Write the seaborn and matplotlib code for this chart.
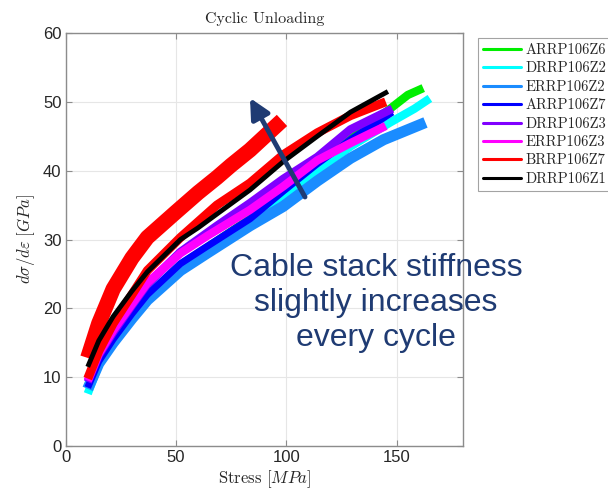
import numpy as np
import pandas as pd
import matplotlib
matplotlib.use("Agg")
import matplotlib.pyplot as plt
import seaborn as sns
from matplotlib.lines import Line2D

# ---- data ----
series_names = ["ARRP106Z6", "DRRP106Z2", "ERRP106Z2", "ARRP106Z7",
                "DRRP106Z3", "ERRP106Z3", "BRRP106Z7", "DRRP106Z1"]
series_colors = ["#00ee00", "#00ffff", "#1a8cff", "#0000ff",
                 "#8000ff", "#ff00ff", "#ff0000", "#000000"]

arrp106z6_x = [10, 15, 21.5, 30, 37, 52, 64, 83.5, 98.5, 114, 129, 145, 155, 162]
arrp106z6_y = [8.5, 12.2, 15.2, 18.8, 21.7, 26.3, 28.8, 33, 36.5, 41, 45, 48.5, 51, 52]

drrp106z2_x = [10, 15, 21.5, 30, 37, 52, 64, 83.5, 98.5, 114, 129, 147, 158, 165]
drrp106z2_y = [7.6, 11.8, 15, 18.6, 21.5, 26, 28.5, 32.5, 36, 40, 43.5, 47, 49, 50.5]

errp106z2_x = [10, 15, 21.5, 30, 37, 52, 64, 83.5, 98.5, 114, 129, 144, 163]
errp106z2_y = [8.3, 12, 15, 18.5, 21.2, 25.5, 28, 32, 34.8, 38.5, 41.8, 44.5, 47]

arrp106z7_x = [10, 15, 21.5, 30, 37, 52, 64, 83.5, 98.5, 114, 129, 148]
arrp106z7_y = [8.5, 12.3, 15.5, 19.2, 22, 26.5, 29, 33, 37, 41, 44.5, 48.5]

drrp106z3_x = [10, 15, 21.5, 30, 37, 52, 68.5, 83.5, 98.5, 114, 129, 148]
drrp106z3_y = [9.3, 13.2, 16.5, 20.4, 23.5, 28.2, 32, 35.3, 38.8, 42, 46, 49]

errp106z3_x = [10, 15, 21.5, 30, 37, 52, 64, 83.5, 98.5, 114, 129, 145]
errp106z3_y = [9.5, 13.4, 16.8, 20.6, 23.7, 28, 30.5, 34.3, 37.7, 41.5, 44, 46.5]

# BRRP106Z7: first cycle (to ~100 MPa) and second cycle (to ~145 MPa)
brrp106z7_c1_x = [10, 15, 21.5, 30, 37, 50, 60, 68.5, 75, 83.5, 98]
brrp106z7_c1_y = [12.8, 17.8, 22.8, 27.3, 30.3, 34, 36.8, 39, 40.8, 43, 47.3]
brrp106z7_c2_x = [10, 15, 21.5, 30, 37, 52, 68.5, 83.5, 98.5, 114, 129, 145]
brrp106z7_c2_y = [9.8, 13.8, 17.8, 22, 25.5, 30.3, 35, 38.2, 42.3, 45.5, 48, 50]

drrp106z1_x = [10, 15, 21.5, 30, 37, 52, 60, 68.5, 83.5, 98.5, 114, 129, 146]
drrp106z1_y = [11.5, 15.3, 18.8, 22.5, 25.3, 30, 31.7, 33.7, 37.2, 41.3, 45, 48.5, 51.5]

x_ticks = [0, 50, 100, 150]
y_ticks = [0, 10, 20, 30, 40, 50, 60]

curves = [
    ("ARRP106Z6", arrp106z6_x, arrp106z6_y),
    ("DRRP106Z2", drrp106z2_x, drrp106z2_y),
    ("ERRP106Z2", errp106z2_x, errp106z2_y),
    ("ARRP106Z7", arrp106z7_x, arrp106z7_y),
    ("DRRP106Z3", drrp106z3_x, drrp106z3_y),
    ("ERRP106Z3", errp106z3_x, errp106z3_y),
    ("BRRP106Z7", brrp106z7_c1_x, brrp106z7_c1_y),
    ("BRRP106Z7", brrp106z7_c2_x, brrp106z7_c2_y),
    ("DRRP106Z1", drrp106z1_x, drrp106z1_y),
]
widths = [6, 6, 8, 5, 6, 6, 11, 6.5, 3.5]

sns.set_theme(style="whitegrid")
plt.rcParams["mathtext.fontset"] = "cm"
plt.rcParams["font.family"] = ["Liberation Sans", "DejaVu Sans"]

fig = plt.figure(figsize=(6.08, 4.98), dpi=100)
ax = fig.add_axes([0.108, 0.1044, 0.6535, 0.8293])

cmap = dict(zip(series_names, series_colors))
for (name, xs, ys), w in zip(curves, widths):
    df = pd.DataFrame({"x": xs, "y": ys})
    sns.lineplot(data=df, x="x", y="y", ax=ax, color=cmap[name], lw=w,
                 sort=False, estimator=None, legend=False,
                 solid_capstyle="butt", solid_joinstyle="round")

ax.set_xlim(0, 180)
ax.set_ylim(0, 60)
ax.set_xticks(x_ticks)
ax.set_yticks(y_ticks)
ax.set_xticklabels([str(t) for t in x_ticks], fontsize=12, color="#262626")
ax.set_yticklabels([str(t) for t in y_ticks], fontsize=12, color="#262626")
ax.grid(True, color="#e6e6e6", lw=0.8)
ax.set_facecolor("white")
for s in ax.spines.values():
    s.set_visible(True)
    s.set_color("#8c8c8c")
    s.set_linewidth(1.0)
ax.tick_params(direction="in", length=4, width=0.8, color="#8c8c8c",
               top=True, right=True, bottom=True, left=True, pad=3)

ax.set_title("Cyclic Unloading", fontname="cmr10", fontsize=11.5,
             color="#262626", pad=7)
ax.set_xlabel(r"Stress $[MPa]$", fontname="cmr10", fontsize=12,
              color="#262626", labelpad=2)
ax.set_ylabel(r"$d\sigma/d\varepsilon\ [GPa]$", fontsize=12,
              color="#262626", labelpad=4)

handles = [Line2D([0], [0], color=c, lw=2.2) for c in series_colors]
leg = ax.legend(handles, series_names, loc="upper left",
                bbox_to_anchor=(1.02, 1.005), frameon=True, fancybox=False,
                handlelength=2.6, handletextpad=0.3, labelspacing=0.32,
                borderpad=0.35, prop={"family": "cmr10", "size": 10.5})
leg.get_frame().set_edgecolor("#8c8c8c")
leg.get_frame().set_linewidth(0.8)

navy = "#1f3b73"
H = 498
ax.annotate("", xy=(250, H - 98), xycoords="figure pixels",
            xytext=(305, H - 197), textcoords="figure pixels",
            arrowprops=dict(arrowstyle="-|>,head_length=1.0,head_width=0.5",
                            color=navy, lw=3.5, shrinkA=0, shrinkB=0))
fig.text(376 / 608, 1 - 303 / H,
         "Cable stack stiffness\nslightly increases\nevery cycle",
         ha="center", va="center", fontsize=23, color=navy,
         family=["Liberation Sans", "DejaVu Sans"], linespacing=1.2)

fig.savefig("out.png", dpi=100)
